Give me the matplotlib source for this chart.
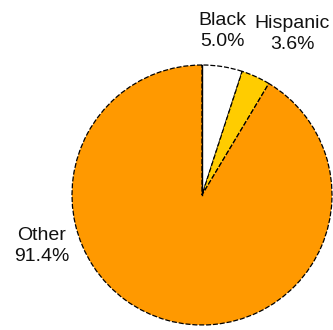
import matplotlib
matplotlib.use("Agg")
import matplotlib.pyplot as plt

groups = ["Black", "Hispanic", "Other"]
shares = [5.0, 3.6, 91.4]
colors = ["#FFFFFF", "#FFCC00", "#FF9900"]

W, H = 333, 330
fig = plt.figure(figsize=(W / 100, H / 100), dpi=100)
ax = fig.add_axes([0, 0, 1, 1])

wedges, _ = ax.pie(shares, colors=colors, startangle=90, counterclock=False,
                   center=(202, H - 195), radius=130, frame=True,
                   wedgeprops=dict(edgecolor="black", linewidth=0.9, linestyle=(0, (4, 1.5))))
ax.set_xlim(0, W)
ax.set_ylim(0, H)
ax.set_aspect("equal")
ax.axis("off")

# solid spoke from the centre up to 12 o'clock
ax.plot([202, 202], [H - 195, H - 65], color="black", lw=1.0)

font = dict(family="Liberation Sans", fontsize=14, color="#111111",
            ha="center", va="center", linespacing=1.32)
label_pos = {"Black": (222, H - 31), "Hispanic": (292, H - 34), "Other": (42, H - 246)}
for g, s in zip(groups, shares):
    x, y = label_pos[g]
    ax.text(x, y, f"{g}\n{s:.1f}%", **font)

fig.savefig("out.png", dpi=100)
